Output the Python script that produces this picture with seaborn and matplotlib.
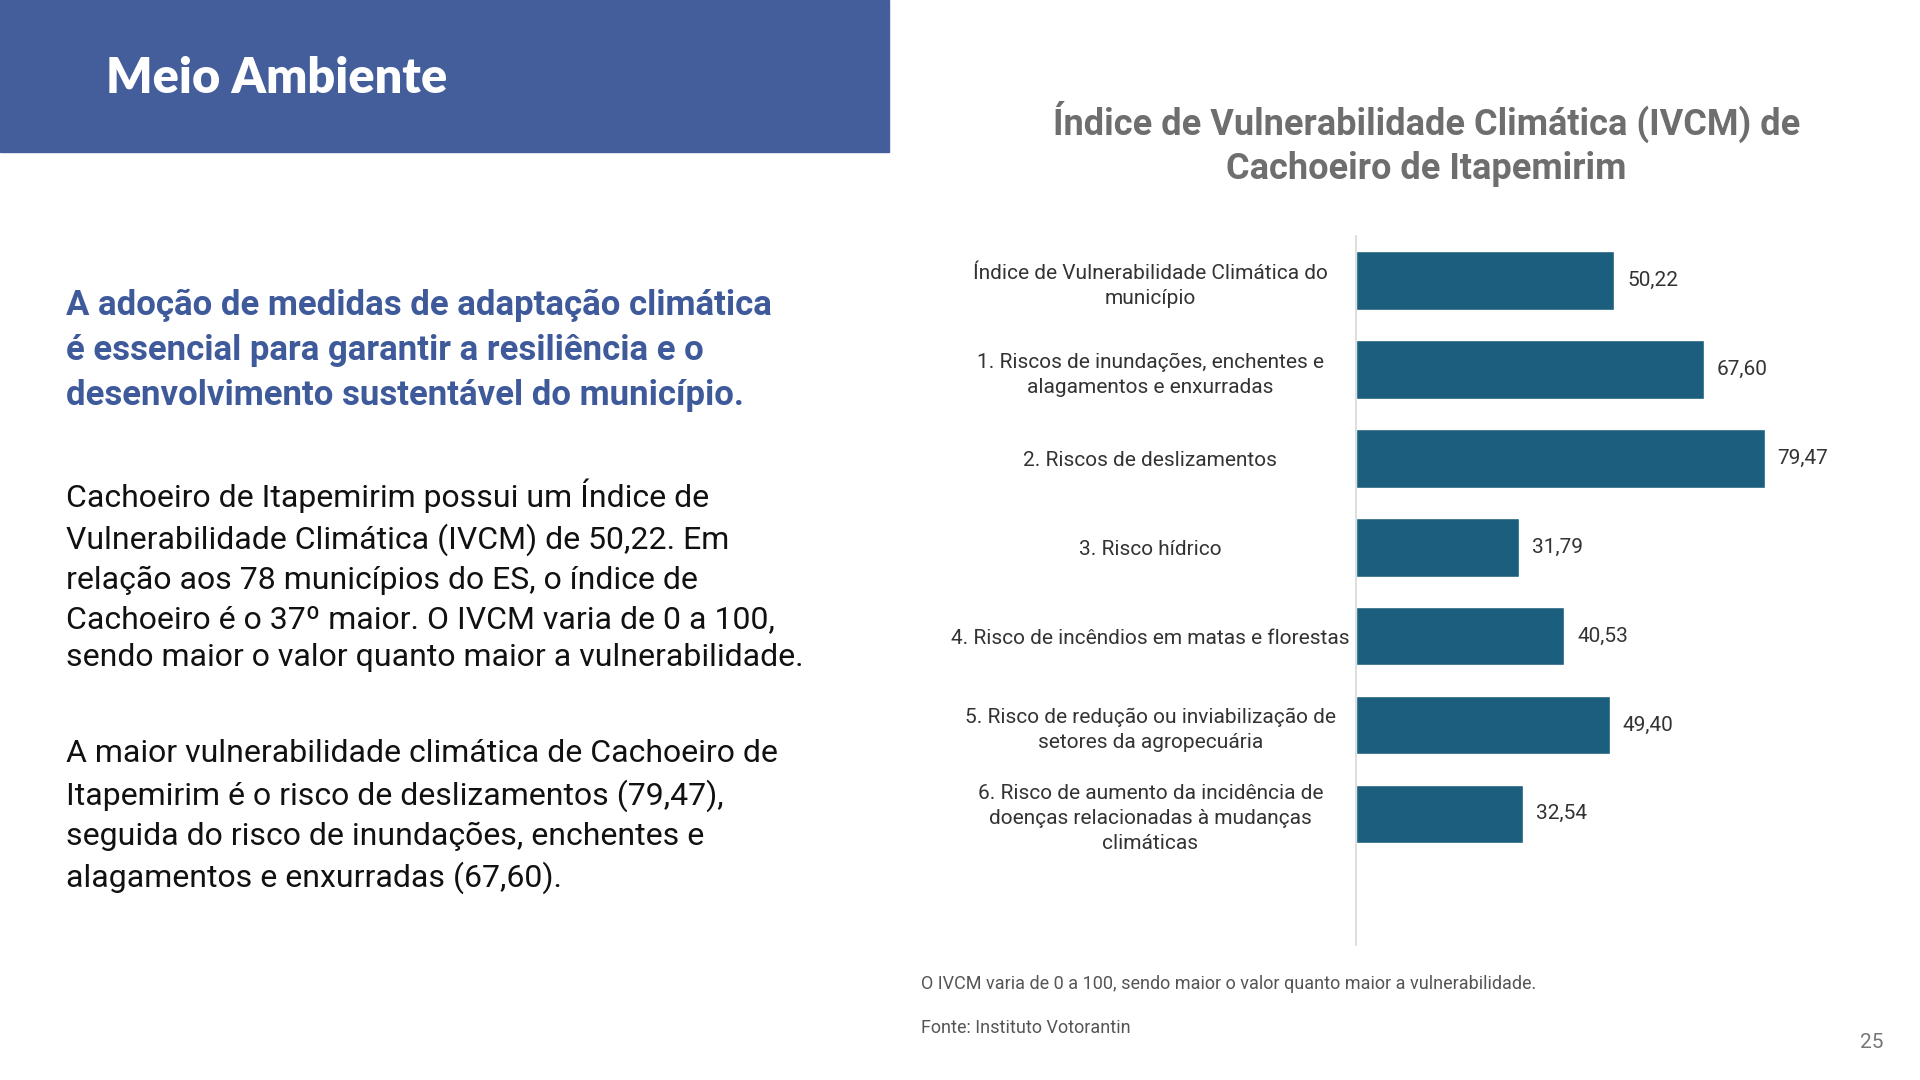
import matplotlib
matplotlib.use("Agg")
import matplotlib.pyplot as plt
import seaborn as sns
import pandas as pd

categories = [
    "Índice de Vulnerabilidade Climática do\nmunicípio",
    "1. Riscos de inundações, enchentes e\nalagamentos e enxurradas",
    "2. Riscos de deslizamentos",
    "3. Risco hídrico",
    "4. Risco de incêndios em matas e florestas",
    "5. Risco de redução ou inviabilização de\nsetores da agropecuária",
    "6. Risco de aumento da incidência de\ndoenças relacionadas à mudanças\nclimáticas",
]
values = [50.22, 67.60, 79.47, 31.79, 40.53, 49.40, 32.54]

sns.set_theme(style="white")
plt.rcParams['font.family'] = ['Roboto', 'DejaVu Sans']

W, H = 1545, 869
fig = plt.figure(figsize=(19.2, 10.8), dpi=100)
fig.patch.set_facecolor("white")

def fx(x): return x / W
def fy(y): return 1 - y / H

# header band
fig.patches.append(plt.Rectangle((0, fy(122)), fx(715), 122 / H, transform=fig.transFigure,
                                 color="#445E9C", zorder=0))
fig.text(fx(85), fy(63), "Meio Ambiente", color="white", fontsize=35, fontweight="heavy",
         family=["Lato", "DejaVu Sans"], va="center")

fig.text(fx(53), fy(282), "A adoção de medidas de adaptação climática\né essencial para garantir a resiliência e o\ndesenvolvimento sustentável do município.",
         color="#3F5A9A", fontsize=25, fontweight="bold", va="center", linespacing=1.45)
fig.text(fx(53), fy(463), "Cachoeiro de Itapemirim possui um Índice de\nVulnerabilidade Climática (IVCM) de 50,22. Em\nrelação aos 78 municípios do ES, o índice de\nCachoeiro é o 37º maior. O IVCM varia de 0 a 100,\nsendo maior o valor quanto maior a vulnerabilidade.",
         color="#111111", fontsize=23, va="center", linespacing=1.42)
fig.text(fx(53), fy(657), "A maior vulnerabilidade climática de Cachoeiro de\nItapemirim é o risco de deslizamentos (79,47),\nseguida do risco de inundações, enchentes e\nalagamentos e enxurradas (67,60).",
         color="#111111", fontsize=23, va="center", linespacing=1.42)

fig.text(fx(1148), fy(116), "Índice de Vulnerabilidade Climática (IVCM) de\nCachoeiro de Itapemirim",
         color="#6E6E6E", fontsize=26, fontweight="bold", ha="center", va="center", linespacing=1.3)

ax = fig.add_axes([fx(1091), fy(760), fx(1505) - fx(1091), (760 - 190) / H])
df = pd.DataFrame({"cat": categories, "val": values})
sns.barplot(data=df, y="cat", x="val", color="#1B5E7E", saturation=1, width=0.66, ax=ax, orient="h")
ax.set_xlim(0, 100)
ax.set_ylim(7.47, -0.5)
ax.set_xlabel("")
ax.set_ylabel("")
ax.set_xticks([])
for s in ["top", "right", "bottom"]:
    ax.spines[s].set_visible(False)
ax.spines["left"].set_color("#D9D9D9")
ax.tick_params(axis="y", length=0, labelsize=15, labelcolor="#333333")
for lbl in ax.get_yticklabels():
    lbl.set_horizontalalignment("center")
    lbl.set_linespacing(1.4)
ax.yaxis.set_tick_params(pad=148)
for i, v in enumerate(values):
    ax.text(v + 2.5, i, f"{v:.2f}".replace(".", ","), va="center", ha="left", fontsize=15, color="#333333")

fig.text(fx(741), fy(792), "O IVCM varia de 0 a 100, sendo maior o valor quanto maior a vulnerabilidade.",
         color="#555555", fontsize=13, va="center")
fig.text(fx(741), fy(827), "Fonte: Instituto Votorantin", color="#555555", fontsize=13, va="center")
fig.text(fx(1516), fy(839), "25", color="#777777", fontsize=15, ha="right", va="center")

fig.savefig("out.png", dpi=100)
